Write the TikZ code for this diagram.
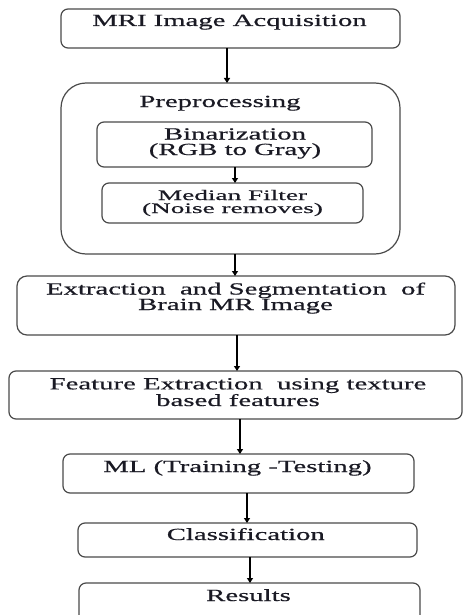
\documentclass[tikz,border=0pt]{standalone}
\usepackage{fontspec}
\usetikzlibrary{arrows.meta}
\newfontfamily\wf[FakeStretch=1.69,FakeBold=0.6]{Liberation Serif}
\newfontfamily\wfs[FakeStretch=1.88,FakeBold=0.5]{Liberation Serif}
\definecolor{boxgray}{HTML}{4A4A4A}
\definecolor{txtcol}{HTML}{1A1A24}
\begin{document}
\begin{tikzpicture}[x=1pt,y=-1pt,
  box/.style={draw=boxgray, line width=1.2pt, rounded corners=7pt, inner sep=0pt, outer sep=0pt, fill=white},
  txt/.style={font=\wf\fontsize{17pt}{15.5pt}\selectfont, text=txtcol, align=center, anchor=base, inner sep=0pt},
  txts/.style={font=\wfs\fontsize{14.5pt}{13pt}\selectfont, text=txtcol, align=center, anchor=base, inner sep=0pt},
  arr/.style={-{Triangle[width=6pt,length=5pt]}, line width=1.3pt, draw=black}]
\useasboundingbox (0,0) rectangle (463,615);
\clip (0,0) rectangle (463,615);
% boxes
\node[box, minimum width=339pt, minimum height=39pt] (b1) at (230.5,28.5) {};
\node[box, rounded corners=25pt, minimum width=339pt, minimum height=171pt] (pre) at (230.5,168.5) {};
\node[box, minimum width=275pt, minimum height=45pt] (bin) at (234.5,144.5) {};
\node[box, minimum width=261pt, minimum height=40pt] (med) at (232.5,203) {};
\node[box, rounded corners=10pt, minimum width=438pt, minimum height=59pt] (ext) at (236,305.5) {};
\node[box, minimum width=453pt, minimum height=48pt] (feat) at (235.5,395) {};
\node[box, minimum width=351pt, minimum height=39pt] (ml) at (238.5,473.5) {};
\node[box, minimum width=339pt, minimum height=34pt] (cls) at (247.5,540) {};
\node[box, minimum width=341pt, minimum height=42pt] (res) at (249.5,604) {};
% texts (anchor=base is the baseline of the last line)
\node[txt] (t1) at (229.5,26) {MRI Image Acquisition};
\node[txt] (tpre) at (220,107) {Preprocessing};
\node[txt] (tbin) at (235,155) {Binarization\\(RGB to Gray)};
\node[txts] (tmed) at (232.5,213) {Median Filter\\(Noise removes)};
\node[txt] (text) at (235.5,310) {Extraction\ \ and Segmentation\ \ of\\Brain MR Image};
\node[txt] (tfeat) at (238,406) {Feature Extraction\ \ using texture\\based features};
\node[txt] (tml) at (237.5,472) {ML (Training -Testing)};
\node[txt] (tcls) at (245.8,540) {Classification};
\node[txt] (tres) at (248.5,601) {Results};
% arrows
\draw[arr] (b1.south -| 227,0) -- (pre.north -| 227,0);
\draw[arr] (bin.south -| 235,0) -- (med.north -| 235,0);
\draw[arr] (pre.south -| 235,0) -- (ext.north -| 235,0);
\draw[arr] (ext.south -| 237,0) -- (feat.north -| 237,0);
\draw[arr] (feat.south -| 240,0) -- (ml.north -| 240,0);
\draw[arr] (ml.south -| 247,0) -- (cls.north -| 247,0);
\draw[arr] (cls.south -| 250,0) -- (res.north -| 250,0);
\end{tikzpicture}
\end{document}
